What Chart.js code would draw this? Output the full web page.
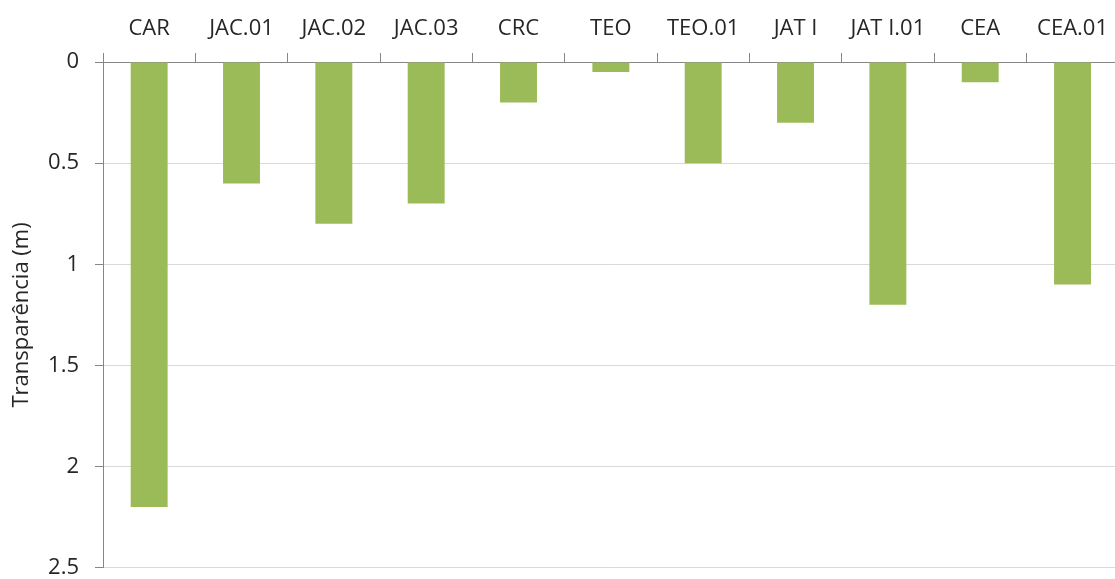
<!DOCTYPE html>
<html>
<head>
<meta charset="utf-8">
<script src="https://cdn.jsdelivr.net/npm/chart.js@4/dist/chart.umd.min.js"></script>
<style>
    html, body { margin: 0; padding: 0; background: #fff; overflow: hidden; }
    #wrap { position: relative; width: 1119px; height: 597px; }
</style>
</head>
<body>
<div id="wrap"><canvas id="chart"></canvas></div>
<script>
const categories = ['CAR', 'JAC.01', 'JAC.02', 'JAC.03', 'CRC', 'TEO', 'TEO.01', 'JAT I', 'JAT I.01', 'CEA', 'CEA.01'];
const transparency = [2.2, 0.6, 0.8, 0.7, 0.2, 0.05, 0.5, 0.3, 1.2, 0.1, 1.1];
const yMin = 0;
const yMax = 2.5;
const yStep = 0.5;
const yTitle = 'Transparência (m)';

const fontFamily = '"Open Sans", "DejaVu Sans", sans-serif';

new Chart(document.getElementById('chart').getContext('2d'), {
    type: 'bar',
    data: {
        labels: categories,
        datasets: [{
            data: transparency,
            backgroundColor: '#9bbb59',
            borderWidth: 0,
            barPercentage: 0.4,
            categoryPercentage: 1.0
        }]
    },
    options: {
        responsive: true,
        maintainAspectRatio: false,
        animation: false,
        layout: { padding: 0 },
        plugins: {
            legend: { display: false },
            tooltip: { enabled: false }
        },
        scales: {
            x: {
                position: 'top',
                offset: true,
                afterFit: (scale) => { scale.height = 62; },
                grid: {
                    offset: true,
                    drawOnChartArea: false,
                    color: '#868686',
                    tickLength: 9
                },
                border: { color: '#868686', width: 1 },
                ticks: {
                    color: '#262626',
                    padding: 11,
                    maxRotation: 0,
                    autoSkip: false,
                    font: { family: fontFamily, size: 22 }
                }
            },
            y: {
                reverse: true,
                min: yMin,
                max: yMax,
                afterFit: (scale) => { scale.width = 103; },
                grid: {
                    color: '#d9d9d9',
                    tickColor: '#868686',
                    tickLength: 8
                },
                border: { color: '#868686', width: 1 },
                ticks: {
                    stepSize: yStep,
                    color: '#262626',
                    padding: 16,
                    font: { family: fontFamily, size: 22 },
                    callback: (v) => String(v)
                },
                title: {
                    display: true,
                    text: yTitle,
                    color: '#262626',
                    padding: { top: 9, bottom: 0 },
                    font: { family: fontFamily, size: 22 }
                }
            }
        }
    }
});
</script>
</body>
</html>
